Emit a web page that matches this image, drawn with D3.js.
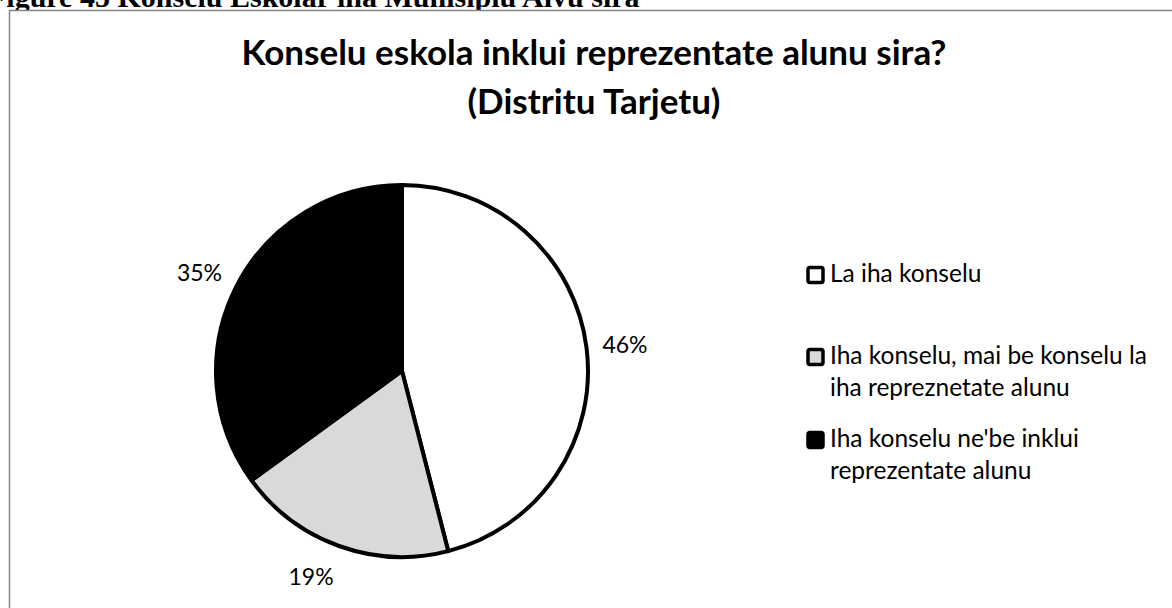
<!DOCTYPE html>
<html>
<head>
<meta charset="utf-8">
<script src="https://cdn.jsdelivr.net/npm/d3@7"></script>
<style>
    html, body { margin: 0; padding: 0; background: #fff; overflow: hidden; }
</style>
</head>
<body>
<div id="chart"></div>
<script>
// Chart data
const categories = [
    'La iha konselu',
    'Iha konselu, mai be konselu la iha repreznetate alunu',
    "Iha konselu ne'be inklui reprezentate alunu"
];
const values = [46, 19, 35];
const sliceColors = ['#ffffff', '#d9d9d9', '#000000'];
// legend text broken on two lines like the original
const legendLines = [
    ['La iha konselu'],
    ['Iha konselu, mai be konselu la', 'iha repreznetate alunu'],
    ["Iha konselu ne'be inklui", 'reprezentate alunu']
];
const titleLines = ['Konselu eskola inklui reprezentate alunu sira?', '(Distritu Tarjetu)'];
const captionText = 'Figure 45 Konselu Eskolar iha Munisipiu Aivu sira';

function drawChart() {
    const width = 1172;
    const height = 608;
    const font = 'Lato, "Open Sans", sans-serif';

    const svg = d3.select('#chart')
        .append('svg')
        .attr('width', width)
        .attr('height', height);

    // Caption from the document, cut off at the top of the page
    svg.append('text')
        .attr('x', -12)
        .attr('y', 7)
        .style('font-family', '"Liberation Serif", "Times New Roman", serif')
        .style('font-weight', 'bold')
        .style('font-size', '30px')
        .text(captionText);

    // Chart frame (runs off the right and bottom)
    svg.append('rect')
        .attr('x', 9.5)
        .attr('y', 10.5)
        .attr('width', 1200)
        .attr('height', 700)
        .style('fill', '#fff')
        .style('stroke', '#868686')
        .style('stroke-width', 1.5);

    // Title
    const title = svg.append('text')
        .attr('text-anchor', 'middle')
        .style('font-family', font)
        .style('font-weight', 'bold')
        .style('font-size', '35px')
        .style('fill', '#000');

    title.selectAll('tspan')
        .data(titleLines)
        .join('tspan')
        .attr('x', 594)
        .attr('y', (d, i) => 65 + i * 49)
        .text(d => d);

    // Pie
    const cx = 402, cy = 371, radius = 186;
    const pie = d3.pie().sort(null).value(d => d);
    const arcs = pie(values);

    const arc = d3.arc().innerRadius(0).outerRadius(radius);
    // labels sit just outside the rim, pushed away on the side they face
    const labelArc = d3.arc().innerRadius(202).outerRadius(202);
    const midAngle = d => (d.startAngle + d.endAngle) / 2;

    const g = svg.append('g')
        .attr('transform', `translate(${cx},${cy})`);

    g.selectAll('path')
        .data(arcs)
        .join('path')
        .attr('d', arc)
        .style('fill', (d, i) => sliceColors[i])
        .style('stroke', '#000')
        .style('stroke-width', 4)
        .style('stroke-linejoin', 'round');

    const fmt = d3.format('.0%');
    g.selectAll('text.value')
        .data(arcs)
        .join('text')
        .attr('class', 'value')
        .attr('x', d => labelArc.centroid(d)[0])
        .attr('y', d => labelArc.centroid(d)[1] - Math.cos(midAngle(d)) * 16)
        .attr('text-anchor', d => Math.sin(midAngle(d)) < 0 ? 'end' : 'start')
        .attr('dominant-baseline', 'central')
        .style('font-family', font)
        .style('font-size', '23px')
        .style('fill', '#000')
        .text(d => fmt(d.value / d3.sum(values)));

    // Legend
    const legendY = [282, 364, 447];
    const legend = svg.append('g');

    const items = legend.selectAll('g')
        .data(categories)
        .join('g')
        .attr('transform', (d, i) => `translate(808,${legendY[i]})`);

    items.append('rect')
        .attr('x', 0)
        .attr('y', -14.5)
        .attr('width', 15)
        .attr('height', 15)
        .attr('rx', 2)
        .style('fill', (d, i) => sliceColors[i])
        .style('stroke', '#000')
        .style('stroke-width', 3.5);

    items.append('text')
        .style('font-family', font)
        .style('font-size', '24.5px')
        .style('fill', '#000')
        .selectAll('tspan')
        .data((d, i) => legendLines[i])
        .join('tspan')
        .attr('x', 22)
        .attr('y', (d, j) => j * 32)
        .text(d => d);
}

drawChart();
</script>
</body>
</html>
